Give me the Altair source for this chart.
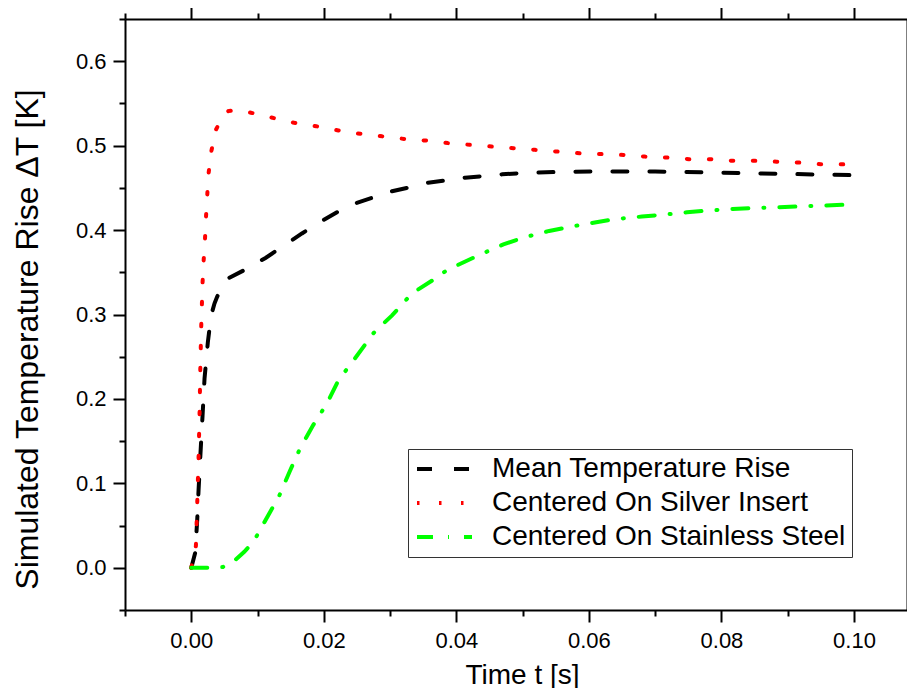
import altair as alt
import pandas as pd

FONT = "Liberation Sans"

series_names = ["Mean Temperature Rise", "Centered On Silver Insert", "Centered On Stainless Steel"]
series_colors = ["#000000", "#ff0000", "#00ff00"]
series_dashes = [[15, 22], [2.5, 19.5], [16, 15, 1, 15]]

t_mean = [0, 0.0006, 0.0009, 0.0011, 0.0014, 0.0017, 0.0020, 0.0025, 0.0030, 0.0035, 0.0039,
          0.0047, 0.0056, 0.0081, 0.0112, 0.0137, 0.0167, 0.0193, 0.0222, 0.0249, 0.0276,
          0.0303, 0.0332, 0.0357, 0.0386, 0.0413, 0.0442, 0.0469, 0.0510, 0.0566, 0.0617,
          0.0700, 0.0800, 0.0900, 0.1000]
v_mean = [0, 0.018, 0.057, 0.092, 0.137, 0.180, 0.224, 0.267, 0.299, 0.313, 0.321,
          0.333, 0.343, 0.353, 0.367, 0.380, 0.396, 0.409, 0.422, 0.432, 0.439,
          0.446, 0.451, 0.456, 0.459, 0.462, 0.464, 0.466, 0.468, 0.469, 0.4695,
          0.4693, 0.468, 0.4665, 0.465]

t_silver = [0, 0.0007, 0.00086, 0.0011, 0.00125, 0.00136, 0.0015, 0.0017, 0.00186, 0.00207,
            0.00222, 0.00241, 0.00261, 0.00302, 0.00367, 0.0045, 0.0056, 0.0065, 0.0090,
            0.01226, 0.01554, 0.01885, 0.0222, 0.0255, 0.0288, 0.0321, 0.0354, 0.0387,
            0.0420, 0.0453, 0.0486, 0.0519, 0.0552, 0.0586, 0.0618, 0.0652, 0.0685, 0.0718,
            0.0751, 0.0784, 0.0817, 0.0850, 0.0883, 0.0917, 0.0950, 0.0983, 0.1000]
v_silver = [0, 0.026, 0.066, 0.130, 0.182, 0.234, 0.285, 0.337, 0.363, 0.389,
            0.415, 0.441, 0.467, 0.493, 0.518, 0.531, 0.541, 0.542, 0.539,
            0.533, 0.527, 0.523, 0.518, 0.514, 0.511, 0.508, 0.506, 0.503,
            0.501, 0.499, 0.497, 0.495, 0.493, 0.491, 0.490, 0.489, 0.487, 0.486,
            0.484, 0.484, 0.482, 0.482, 0.481, 0.480, 0.478, 0.478, 0.477]

t_steel = [0, 0.0032, 0.0048, 0.0066, 0.0080, 0.0094, 0.0104, 0.0116, 0.0132, 0.0149, 0.0164,
           0.0184, 0.0205, 0.0222, 0.0247, 0.0275, 0.0303, 0.0333, 0.0363, 0.0383, 0.0403,
           0.0433, 0.0471, 0.0501, 0.0540, 0.0572, 0.0609, 0.0640, 0.0680, 0.0710, 0.0748,
           0.0778, 0.0817, 0.0847, 0.0886, 0.0916, 0.0955, 0.0986, 0.1000]
v_steel = [0, 0.0, 0.001, 0.009, 0.019, 0.031, 0.045, 0.062, 0.084, 0.115, 0.141,
           0.169, 0.195, 0.222, 0.248, 0.278, 0.299, 0.325, 0.340, 0.351, 0.359,
           0.370, 0.383, 0.391, 0.399, 0.404, 0.409, 0.413, 0.416, 0.418, 0.421,
           0.423, 0.425, 0.426, 0.427, 0.428, 0.429, 0.430, 0.430]

x_major = [0.0, 0.02, 0.04, 0.06, 0.08, 0.10]
x_minor = [-0.01, 0.01, 0.03, 0.05, 0.07, 0.09]
y_major = [0.0, 0.1, 0.2, 0.3, 0.4, 0.5, 0.6]
y_minor = [-0.05, 0.05, 0.15, 0.25, 0.35, 0.45, 0.55, 0.65]

rows = []
for name, ts, vs in [(series_names[0], t_mean, v_mean),
                     (series_names[1], t_silver, v_silver),
                     (series_names[2], t_steel, v_steel)]:
    for t, v in zip(ts, vs):
        rows.append({"t": t, "v": v, "series": name})
df = pd.DataFrame(rows)

xscale = alt.Scale(domain=[-0.01, 0.108], nice=False, zero=False)
yscale = alt.Scale(domain=[-0.05, 0.65], nice=False, zero=False)

common = dict(domainColor="black", domainWidth=2, tickColor="black", tickWidth=2, grid=False,
              labelFont=FONT, labelColor="black", titleFont=FONT, titleColor="black")

legend = alt.Legend(title=None, orient="none", legendX=283, legendY=430, padding=6,
                    strokeColor="#333333", fillColor="white", labelFont=FONT, labelFontSize=28,
                    labelColor="black", symbolType="M-1,0H4", symbolSize=484,
                    symbolStrokeWidth=4, labelOffset=50, rowPadding=6, labelLimit=0)

lines = alt.Chart(df).mark_line(strokeWidth=4, strokeCap="round", clip=True).encode(
    x=alt.X("t:Q", scale=xscale,
            axis=alt.Axis(orient="bottom", values=x_major, format=".2f", tickSize=12,
                          labelFontSize=22, labelPadding=8, labelFlush=False,
                          title="Time t [s]", titleFontSize=28, titleFontWeight="normal",
                          titleX=397, titleY=73, titleBaseline="alphabetic", **common)),
    y=alt.Y("v:Q", scale=yscale,
            axis=alt.Axis(orient="left", values=y_major, format=".1f", tickSize=12,
                          labelFontSize=22, labelPadding=7,
                          title="Simulated Temperature Rise ΔT [K]", titleFontSize=32,
                          titleFontWeight="normal", titleX=-87.5, titleY=320,
                          titleBaseline="alphabetic", titleAngle=270, **common)),
    color=alt.Color("series:N", scale=alt.Scale(domain=series_names, range=series_colors),
                    legend=legend),
    strokeDash=alt.StrokeDash("series:N", scale=alt.Scale(domain=series_names, range=series_dashes),
                              legend=legend),
)


def tick_layer(xo, yo, xv, yv, size, domain):
    return alt.Chart(df).mark_point(opacity=0).encode(
        x=alt.X("t:Q", scale=xscale,
                axis=alt.Axis(orient=xo, values=xv, tickSize=size, labels=False, title=None,
                              domain=domain, **common)),
        y=alt.Y("v:Q", scale=yscale,
                axis=alt.Axis(orient=yo, values=yv, tickSize=size, labels=False, title=None,
                              domain=domain, **common)),
    )


minor = tick_layer("bottom", "left", x_minor, y_minor, 6, False)
top_major = tick_layer("top", "right", x_major, y_major, 12, True)
top_minor = tick_layer("top", "right", x_minor, y_minor, 6, False)

chart = alt.layer(lines, minor, top_major, top_minor).resolve_axis(
    x="independent", y="independent"
).properties(
    width=782, height=591,
    padding={"left": 117, "top": 11, "right": 0, "bottom": 78},
    autosize=alt.AutoSizeParams(type="none"),
    background="white",
).configure_view(stroke=None).configure(font=FONT)

chart.save("out.html", embed_options={"renderer": "svg", "actions": False})
